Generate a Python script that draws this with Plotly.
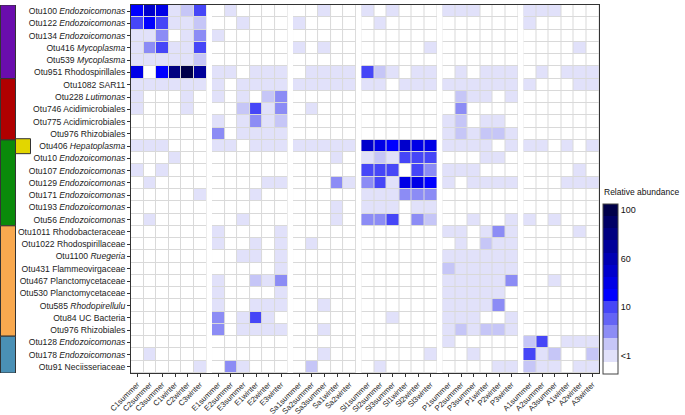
import plotly.graph_objects as go

# Row labels (top to bottom)
row_labels = [
    "Otu100 <i>Endozoicomonas</i>", "Otu122 <i>Endozoicomonas</i>", "Otu134 <i>Endozoicomonas</i>",
    "Otu416 <i>Mycoplasma</i>", "Otu539 <i>Mycoplasma</i>", "Otu951 Rhodospirillales",
    "Otu1082 SAR11", "Otu228 <i>Lutimonas</i>", "Otu746 Acidimicrobiales",
    "Otu775 Acidimicrobiales", "Otu976 Rhizobiales", "Otu406 <i>Hepatoplasma</i>",
    "Otu10 <i>Endozoicomonas</i>", "Otu107 <i>Endozoicomonas</i>", "Otu129 <i>Endozoicomonas</i>",
    "Otu171 <i>Endozoicomonas</i>", "Otu193 <i>Endozoicomonas</i>", "Otu56 <i>Endozoicomonas</i>",
    "Otu1011 Rhodobacteraceae", "Otu1022 Rhodospirillaceae", "Otu1100 <i>Ruegeria</i>",
    "Otu431 Flammeovirgaceae", "Otu467 Planctomycetaceae", "Otu530 Planctomycetaceae",
    "Otu585 <i>Rhodopirellulu</i>", "Otu84 UC Bacteria", "Otu976 Rhizobiales",
    "Otu128 <i>Endozoicomonas</i>", "Otu178 <i>Endozoicomonas</i>", "Otu91 Neciisseriaceae",
]

# Sample groups and their column labels
groups = ["C", "E", "Sa", "Sl", "P", "A"]
group_cols = {
    "C": ["C1summer", "C2summer", "C3summer", "C1winter", "C2winter", "C3winter"],
    "E": ["E1summer", "E2summer", "E3summer", "E1winter", "E2winter", "E3winter"],
    "Sa": ["Sa1summer", "Sa2summer", "Sa3summer", "Sa1winter", "Sa2winter"],
    "Sl": ["Sl1summer", "Sl2summer", "Sl3summer", "Sl1winter", "Sl2winter", "Sl3winter"],
    "P": ["P1summer", "P2summer", "P3summer", "P1winter", "P2winter", "P3winter"],
    "A": ["A1summer", "A2summer", "A3summer", "A1winter", "A2winter", "A3winter"],
}

# Relative abundance class per cell (0 = absent ... 13 = ~100 %), rows in row_labels order
abund_C = [
    [6, 8, 7, 1, 2, 5], [5, 6, 5, 1, 1, 2], [1, 1, 3, 0, 1, 3], [1, 3, 5, 1, 1, 5], [1, 1, 1, 1, 1, 2],
    [7, 0, 6, 11, 13, 10], [1, 1, 1, 1, 1, 1], [1, 0, 0, 0, 1, 0], [1, 0, 0, 0, 1, 0], [0, 0, 0, 0, 0, 0],
    [0, 0, 0, 0, 0, 0], [1, 1, 1, 0, 0, 0], [0, 0, 0, 1, 0, 0], [1, 0, 1, 0, 0, 0], [0, 1, 0, 0, 0, 0],
    [0, 0, 0, 0, 0, 1], [0, 0, 0, 0, 0, 0], [0, 1, 0, 0, 0, 0], [0, 0, 0, 0, 0, 0], [0, 0, 0, 0, 0, 0],
    [0, 0, 0, 0, 0, 0], [0, 0, 0, 0, 0, 0], [0, 0, 0, 0, 0, 0], [0, 0, 0, 0, 0, 0], [0, 0, 0, 0, 0, 0],
    [0, 0, 0, 0, 0, 0], [0, 0, 0, 0, 0, 0], [0, 0, 0, 0, 0, 0], [0, 1, 0, 0, 0, 0], [0, 0, 0, 0, 0, 1],
]
abund_E = [
    [0, 1, 0, 0, 0, 0], [0, 0, 1, 0, 0, 0], [1, 0, 0, 0, 0, 0], [0, 0, 0, 0, 0, 0], [0, 0, 0, 0, 0, 0],
    [1, 1, 0, 1, 1, 1], [1, 0, 1, 1, 1, 1], [1, 0, 1, 0, 2, 3], [0, 0, 2, 5, 1, 3], [1, 0, 1, 3, 1, 2],
    [3, 0, 1, 1, 1, 1], [1, 1, 0, 1, 1, 1], [0, 0, 0, 0, 0, 0], [0, 0, 0, 0, 0, 0], [0, 0, 0, 0, 1, 1],
    [0, 0, 0, 1, 0, 0], [0, 0, 0, 0, 0, 0], [0, 0, 1, 0, 0, 0], [1, 0, 0, 0, 0, 1], [1, 0, 0, 1, 0, 1],
    [0, 0, 1, 1, 0, 1], [0, 0, 0, 0, 0, 1], [1, 0, 0, 2, 1, 3], [1, 0, 0, 0, 0, 1], [1, 0, 0, 1, 1, 1],
    [3, 0, 1, 5, 1, 0], [3, 0, 1, 1, 1, 1], [0, 0, 0, 0, 0, 0], [0, 0, 0, 0, 0, 0], [0, 3, 1, 0, 0, 0],
]
abund_Sa = [
    [0, 0, 1, 0, 0], [1, 0, 0, 0, 0], [0, 0, 0, 0, 0], [1, 0, 1, 0, 0], [0, 0, 0, 0, 0],
    [0, 1, 1, 1, 1], [1, 1, 1, 1, 1], [0, 0, 0, 0, 0], [0, 1, 0, 0, 0], [0, 0, 0, 0, 0],
    [0, 0, 0, 0, 0], [1, 1, 1, 1, 1], [0, 0, 0, 1, 0], [0, 0, 0, 0, 0], [0, 0, 0, 3, 1],
    [0, 0, 0, 0, 0], [0, 0, 0, 1, 0], [0, 0, 0, 1, 0], [0, 0, 0, 0, 0], [0, 1, 0, 0, 0],
    [0, 0, 0, 0, 0], [0, 0, 0, 0, 0], [0, 0, 0, 0, 0], [0, 0, 0, 0, 0], [0, 0, 1, 0, 0],
    [0, 0, 0, 0, 0], [0, 0, 1, 0, 0], [0, 0, 0, 0, 0], [0, 0, 1, 0, 0], [0, 2, 0, 0, 0],
]
abund_Sl = [
    [1, 0, 1, 0, 0, 0], [0, 1, 0, 0, 0, 0], [0, 0, 0, 0, 0, 0], [0, 0, 0, 0, 0, 1], [0, 0, 0, 0, 0, 0],
    [5, 2, 1, 0, 1, 1], [1, 1, 0, 1, 1, 1], [0, 0, 0, 0, 0, 0], [0, 0, 0, 0, 0, 0], [0, 0, 0, 0, 0, 0],
    [0, 0, 0, 0, 0, 0], [8, 7, 6, 8, 7, 7], [1, 2, 1, 5, 5, 5], [5, 5, 5, 0, 5, 3], [3, 5, 1, 7, 7, 6],
    [1, 1, 1, 3, 3, 3], [1, 1, 1, 0, 1, 1], [3, 3, 5, 0, 3, 2], [0, 0, 0, 0, 0, 0], [0, 0, 0, 0, 0, 0],
    [0, 0, 0, 0, 0, 0], [0, 0, 0, 0, 0, 0], [0, 0, 0, 0, 0, 0], [0, 0, 0, 0, 0, 0], [0, 0, 0, 0, 0, 0],
    [0, 0, 1, 0, 0, 0], [0, 0, 0, 0, 0, 0], [0, 0, 0, 0, 0, 0], [0, 0, 0, 0, 0, 1], [0, 1, 0, 0, 0, 0],
]
abund_P = [
    [1, 1, 1, 0, 0, 0], [0, 0, 0, 0, 0, 0], [0, 0, 0, 0, 0, 0], [0, 0, 0, 0, 0, 0], [0, 0, 0, 0, 0, 0],
    [0, 1, 0, 1, 1, 1], [1, 1, 1, 1, 1, 1], [0, 2, 1, 1, 0, 1], [0, 3, 0, 0, 0, 0], [1, 2, 0, 1, 1, 0],
    [1, 2, 1, 2, 2, 1], [1, 1, 1, 1, 0, 1], [0, 0, 0, 1, 1, 0], [1, 1, 1, 0, 0, 0], [1, 0, 1, 1, 1, 1],
    [0, 0, 0, 0, 0, 0], [0, 0, 0, 0, 0, 0], [0, 0, 1, 0, 0, 1], [1, 1, 0, 1, 3, 1], [0, 1, 0, 2, 1, 1],
    [1, 1, 1, 1, 1, 1], [2, 1, 1, 1, 1, 1], [1, 1, 1, 1, 1, 3], [1, 1, 1, 1, 1, 0], [1, 1, 1, 1, 3, 0],
    [1, 1, 1, 0, 0, 1], [1, 2, 1, 2, 2, 1], [1, 0, 0, 0, 0, 0], [0, 0, 1, 0, 0, 0], [0, 0, 0, 0, 1, 1],
]
abund_A = [
    [1, 1, 1, 0, 0, 0], [1, 0, 0, 0, 0, 0], [0, 0, 0, 0, 0, 0], [0, 0, 0, 0, 1, 0], [0, 0, 0, 0, 0, 0],
    [0, 1, 0, 1, 1, 1], [1, 0, 0, 0, 1, 1], [0, 0, 0, 0, 0, 0], [0, 0, 0, 0, 0, 0], [0, 0, 0, 0, 0, 0],
    [0, 0, 0, 0, 0, 0], [1, 1, 0, 1, 0, 1], [0, 0, 0, 0, 0, 0], [0, 0, 0, 0, 1, 0], [0, 0, 0, 1, 1, 1],
    [0, 0, 0, 0, 0, 0], [0, 0, 0, 0, 0, 0], [1, 0, 1, 0, 0, 0], [0, 0, 0, 0, 1, 0], [0, 0, 0, 0, 0, 0],
    [0, 0, 0, 0, 0, 0], [0, 0, 0, 0, 0, 0], [0, 0, 1, 0, 0, 0], [0, 0, 0, 0, 0, 0], [0, 0, 0, 0, 0, 0],
    [0, 0, 0, 0, 0, 0], [0, 0, 0, 0, 0, 0], [2, 5, 0, 1, 1, 1], [5, 1, 2, 0, 0, 2], [2, 1, 1, 0, 1, 1],
]
abund = {"C": abund_C, "E": abund_E, "Sa": abund_Sa, "Sl": abund_Sl, "P": abund_P, "A": abund_A}

# Colour classes of the abundance scale
class_colors = ["#ffffff", "#e1e1fa", "#c6c6f7", "#8c8cf5", "#6464f5", "#4646f7", "#0000ff",
                "#0000e6", "#0000cc", "#0000b3", "#00009a", "#000080", "#000066", "#00004a"]
cbar_tickvals = [13, 9, 5, 1]
cbar_ticktext = ["100", "60", "10", "<1"]

# Taxon clusters on the left (start row, end row, colour)
clusters = [(0, 5, "#6a0dad"), (6, 10, "#b00000"), (11, 17, "#0a8a0a"),
            (18, 26, "#f9a94f"), (27, 29, "#4a90b5")]
highlight_row = (11, "#e2d600")

# ---------------------------------------------------------------
n_cls = len(class_colors)
colorscale = []
for i, c in enumerate(class_colors):
    colorscale.append([i / n_cls, c])
    colorscale.append([(i + 1) / n_cls, c])

GAP = 0.437
fig = go.Figure()
tickvals, ticktext, shapes = [], [], []
start = 0.0
rows = list(range(len(row_labels)))
for g in groups:
    cols = group_cols[g]
    xs = [start + i for i in range(len(cols))]
    tickvals += xs
    ticktext += cols
    shapes.append(dict(type="rect", xref="x", yref="y", x0=xs[0] - 0.5, x1=xs[-1] + 0.5,
                       y0=-0.5, y1=len(rows) - 0.5, fillcolor="#d9d9d9", line_width=0, layer="below"))
    fig.add_trace(go.Heatmap(z=abund[g], x=xs, y=rows, coloraxis="coloraxis",
                             xgap=1, ygap=1, hoverinfo="skip"))
    start = xs[-1] + 1 + GAP

x_max = start - GAP - 0.5

# Left cluster bars (paper coordinates relative to plot area)
L, W = 131.0, 468.0
def px(v):
    return (v - L) / W

for r0, r1, col in clusters:
    shapes.append(dict(type="rect", xref="paper", yref="y", x0=px(0.5), x1=px(15.5),
                       y0=r0 - 0.5, y1=r1 + 0.5, fillcolor=col, line=dict(color="#333", width=1)))
hr, hc = highlight_row
shapes.append(dict(type="rect", xref="paper", yref="y", x0=px(15.5), x1=px(30.5),
                   y0=hr - 0.6, y1=hr + 0.62, fillcolor=hc, line=dict(color="#333", width=1)))

fig.update_layout(
    width=685, height=415,
    margin=dict(l=131, r=86, t=5, b=42, autoexpand=False),
    paper_bgcolor="white", plot_bgcolor="white",
    font=dict(family="Liberation Sans, Arial, sans-serif", color="#222", size=8),
    shapes=shapes,
    coloraxis=dict(
        colorscale=colorscale, cmin=-0.5, cmax=n_cls - 0.5,
        colorbar=dict(
            x=(603 - L) / W, xanchor="left", xref="paper",
            y=-0.003, yanchor="bottom", yref="paper",
            len=170, lenmode="pixels", thickness=15,
            outlinewidth=1, outlinecolor="#444",
            tickvals=cbar_tickvals, ticktext=cbar_ticktext,
            ticks="", tickfont=dict(size=9, color="#111"),
            xpad=0, ypad=0,
        ),
    ),
    xaxis=dict(
        range=[-0.5, x_max], tickvals=tickvals, ticktext=ticktext, tickangle=-45,
        showgrid=False, zeroline=False, showline=True, mirror=True, automargin=False,
        linecolor="#333", linewidth=1, ticks="outside", ticklen=3, tickcolor="#333",
        tickfont=dict(size=7.7), fixedrange=True,
    ),
    yaxis=dict(
        range=[len(rows) - 0.5, -0.5], tickvals=rows, ticktext=row_labels,
        showgrid=False, zeroline=False, showline=True, mirror=True, automargin=False,
        linecolor="#333", linewidth=1, ticks="outside", ticklen=3, tickcolor="#333",
        tickfont=dict(size=8.6), fixedrange=True,
    ),
    annotations=[dict(text="Relative abundance", xref="paper", yref="paper",
                      x=px(602), y=(373 - 192) / 368.0, xanchor="left", yanchor="middle",
                      showarrow=False, font=dict(size=8.5, color="#111"))],
)

fig.write_html("out.html", config={"displayModeBar": False},
               post_script="document.body.style.margin='0px';document.body.style.overflow='hidden';")
